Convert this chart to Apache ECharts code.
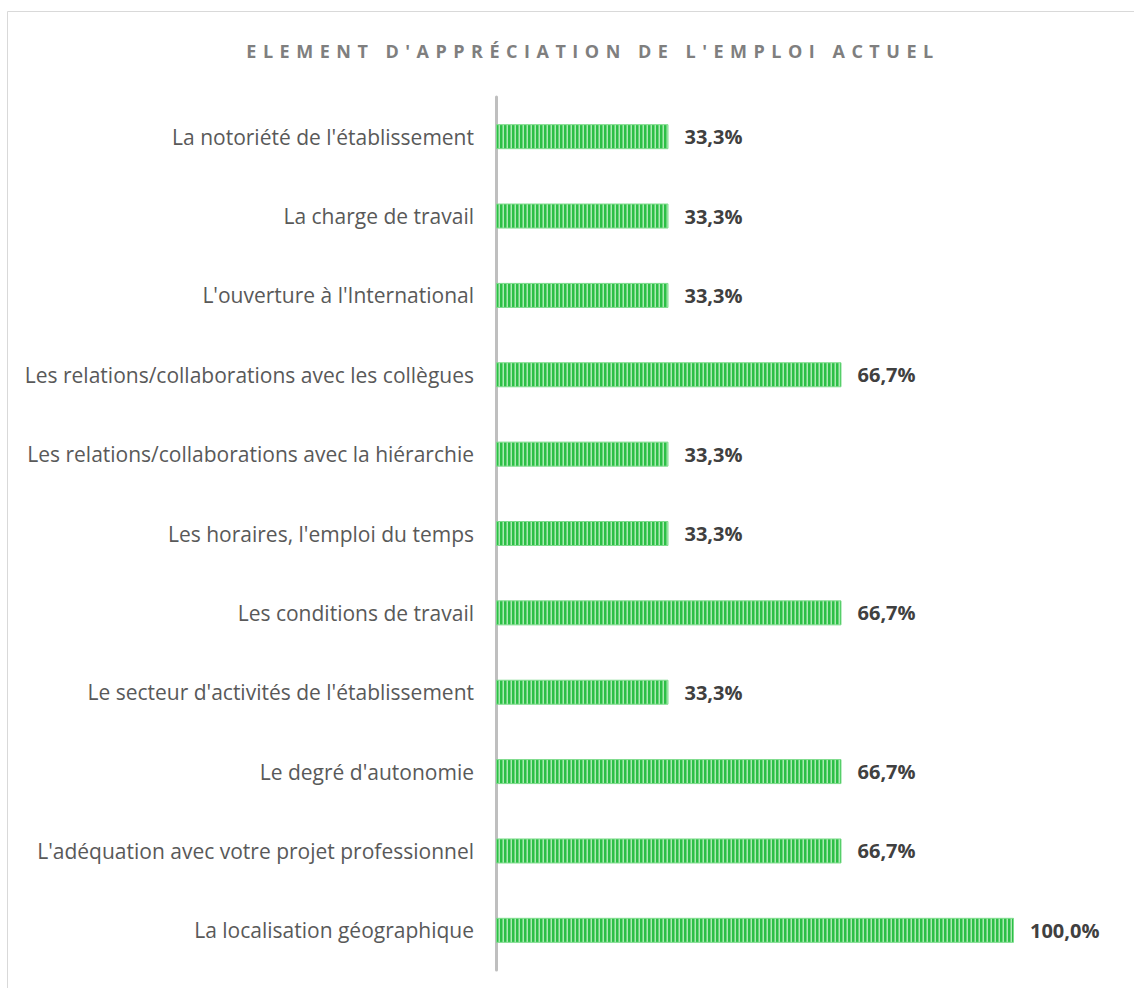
<!DOCTYPE html>
<html>
<head>
<meta charset="utf-8">
<script src="https://cdn.jsdelivr.net/npm/echarts@6/dist/echarts.min.js"></script>
<style>
  html, body { margin: 0; padding: 0; background: #fff; }
  #chart { width: 1134px; height: 988px; }
</style>
</head>
<body>
<div id="chart"></div>
<script>
const titleText = "ELEMENT D'APPRÉCIATION DE L'EMPLOI ACTUEL";

const categories = [
    "La notoriété de l'établissement",
    "La charge de travail",
    "L'ouverture à l'International",
    "Les relations/collaborations avec les collègues",
    "Les relations/collaborations avec la hiérarchie",
    "Les horaires, l'emploi du temps",
    "Les conditions de travail",
    "Le secteur d'activités de l'établissement",
    "Le degré d'autonomie",
    "L'adéquation avec votre projet professionnel",
    "La localisation géographique"
];

const values = [33.3, 33.3, 33.3, 66.7, 33.3, 33.3, 66.7, 33.3, 66.7, 66.7, 100.0];

// vertical stripes like the excel pattern fill
function stripePattern() {
    const c = document.createElement('canvas');
    c.width = 4;
    c.height = 10;
    const ctx = c.getContext('2d');
    ctx.fillStyle = '#2cbf46';
    ctx.fillRect(0, 0, 2, 10);
    ctx.fillStyle = '#6ad67b';
    ctx.fillRect(2, 0, 1, 10);
    ctx.fillStyle = '#ace9b4';
    ctx.fillRect(3, 0, 1, 10);
    return c;
}

const chart = echarts.init(document.getElementById('chart'), null, {renderer: 'svg'});

const option = {
    animation: false,
    title: {
        text: titleText,
        left: 588,
        top: 37,
        textAlign: 'center',
        textStyle: {
            fontFamily: 'Open Sans',
            fontSize: 18,
            fontWeight: 'bold',
            color: '#7f7f7f'
        }
    },
    graphic: [{
        type: 'rect',
        shape: {x: 7.5, y: 11.5, width: 1300, height: 1200},
        style: {fill: 'none', stroke: '#d9d9d9', lineWidth: 1},
        silent: true
    }],
    grid: {
        left: 496,
        right: 120,
        top: 97,
        bottom: 18
    },
    xAxis: {
        type: 'value',
        min: 0,
        max: 100,
        show: false
    },
    yAxis: {
        type: 'category',
        data: categories,
        inverse: true,
        axisTick: {show: false},
        axisLine: {
            show: true,
            lineStyle: {color: '#bfbfbf', width: 3}
        },
        axisLabel: {
            margin: 22,
            fontFamily: 'Open Sans',
            fontSize: 21,
            color: '#595959'
        }
    },
    series: [{
        type: 'bar',
        data: values,
        barWidth: 25,
        itemStyle: {
            color: {image: stripePattern(), repeat: 'repeat'},
            borderColor: '#7edc8c',
            borderWidth: 1
        },
        label: {
            show: true,
            position: 'right',
            distance: 16,
            fontFamily: 'Open Sans',
            fontSize: 20,
            fontWeight: 'bold',
            color: '#404040',
            formatter: function (p) {
                return p.value.toFixed(1).replace('.', ',') + '%';
            }
        }
    }]
};

chart.setOption(option);

// echarts has no letter spacing, so patch the svg title text
const svgTexts = document.querySelectorAll('#chart svg text');
svgTexts.forEach(function (t) {
    if (t.textContent === titleText) {
        t.setAttribute('letter-spacing', '6.5');
        t.style.letterSpacing = '6.5px';
    }
});
</script>
</body>
</html>
